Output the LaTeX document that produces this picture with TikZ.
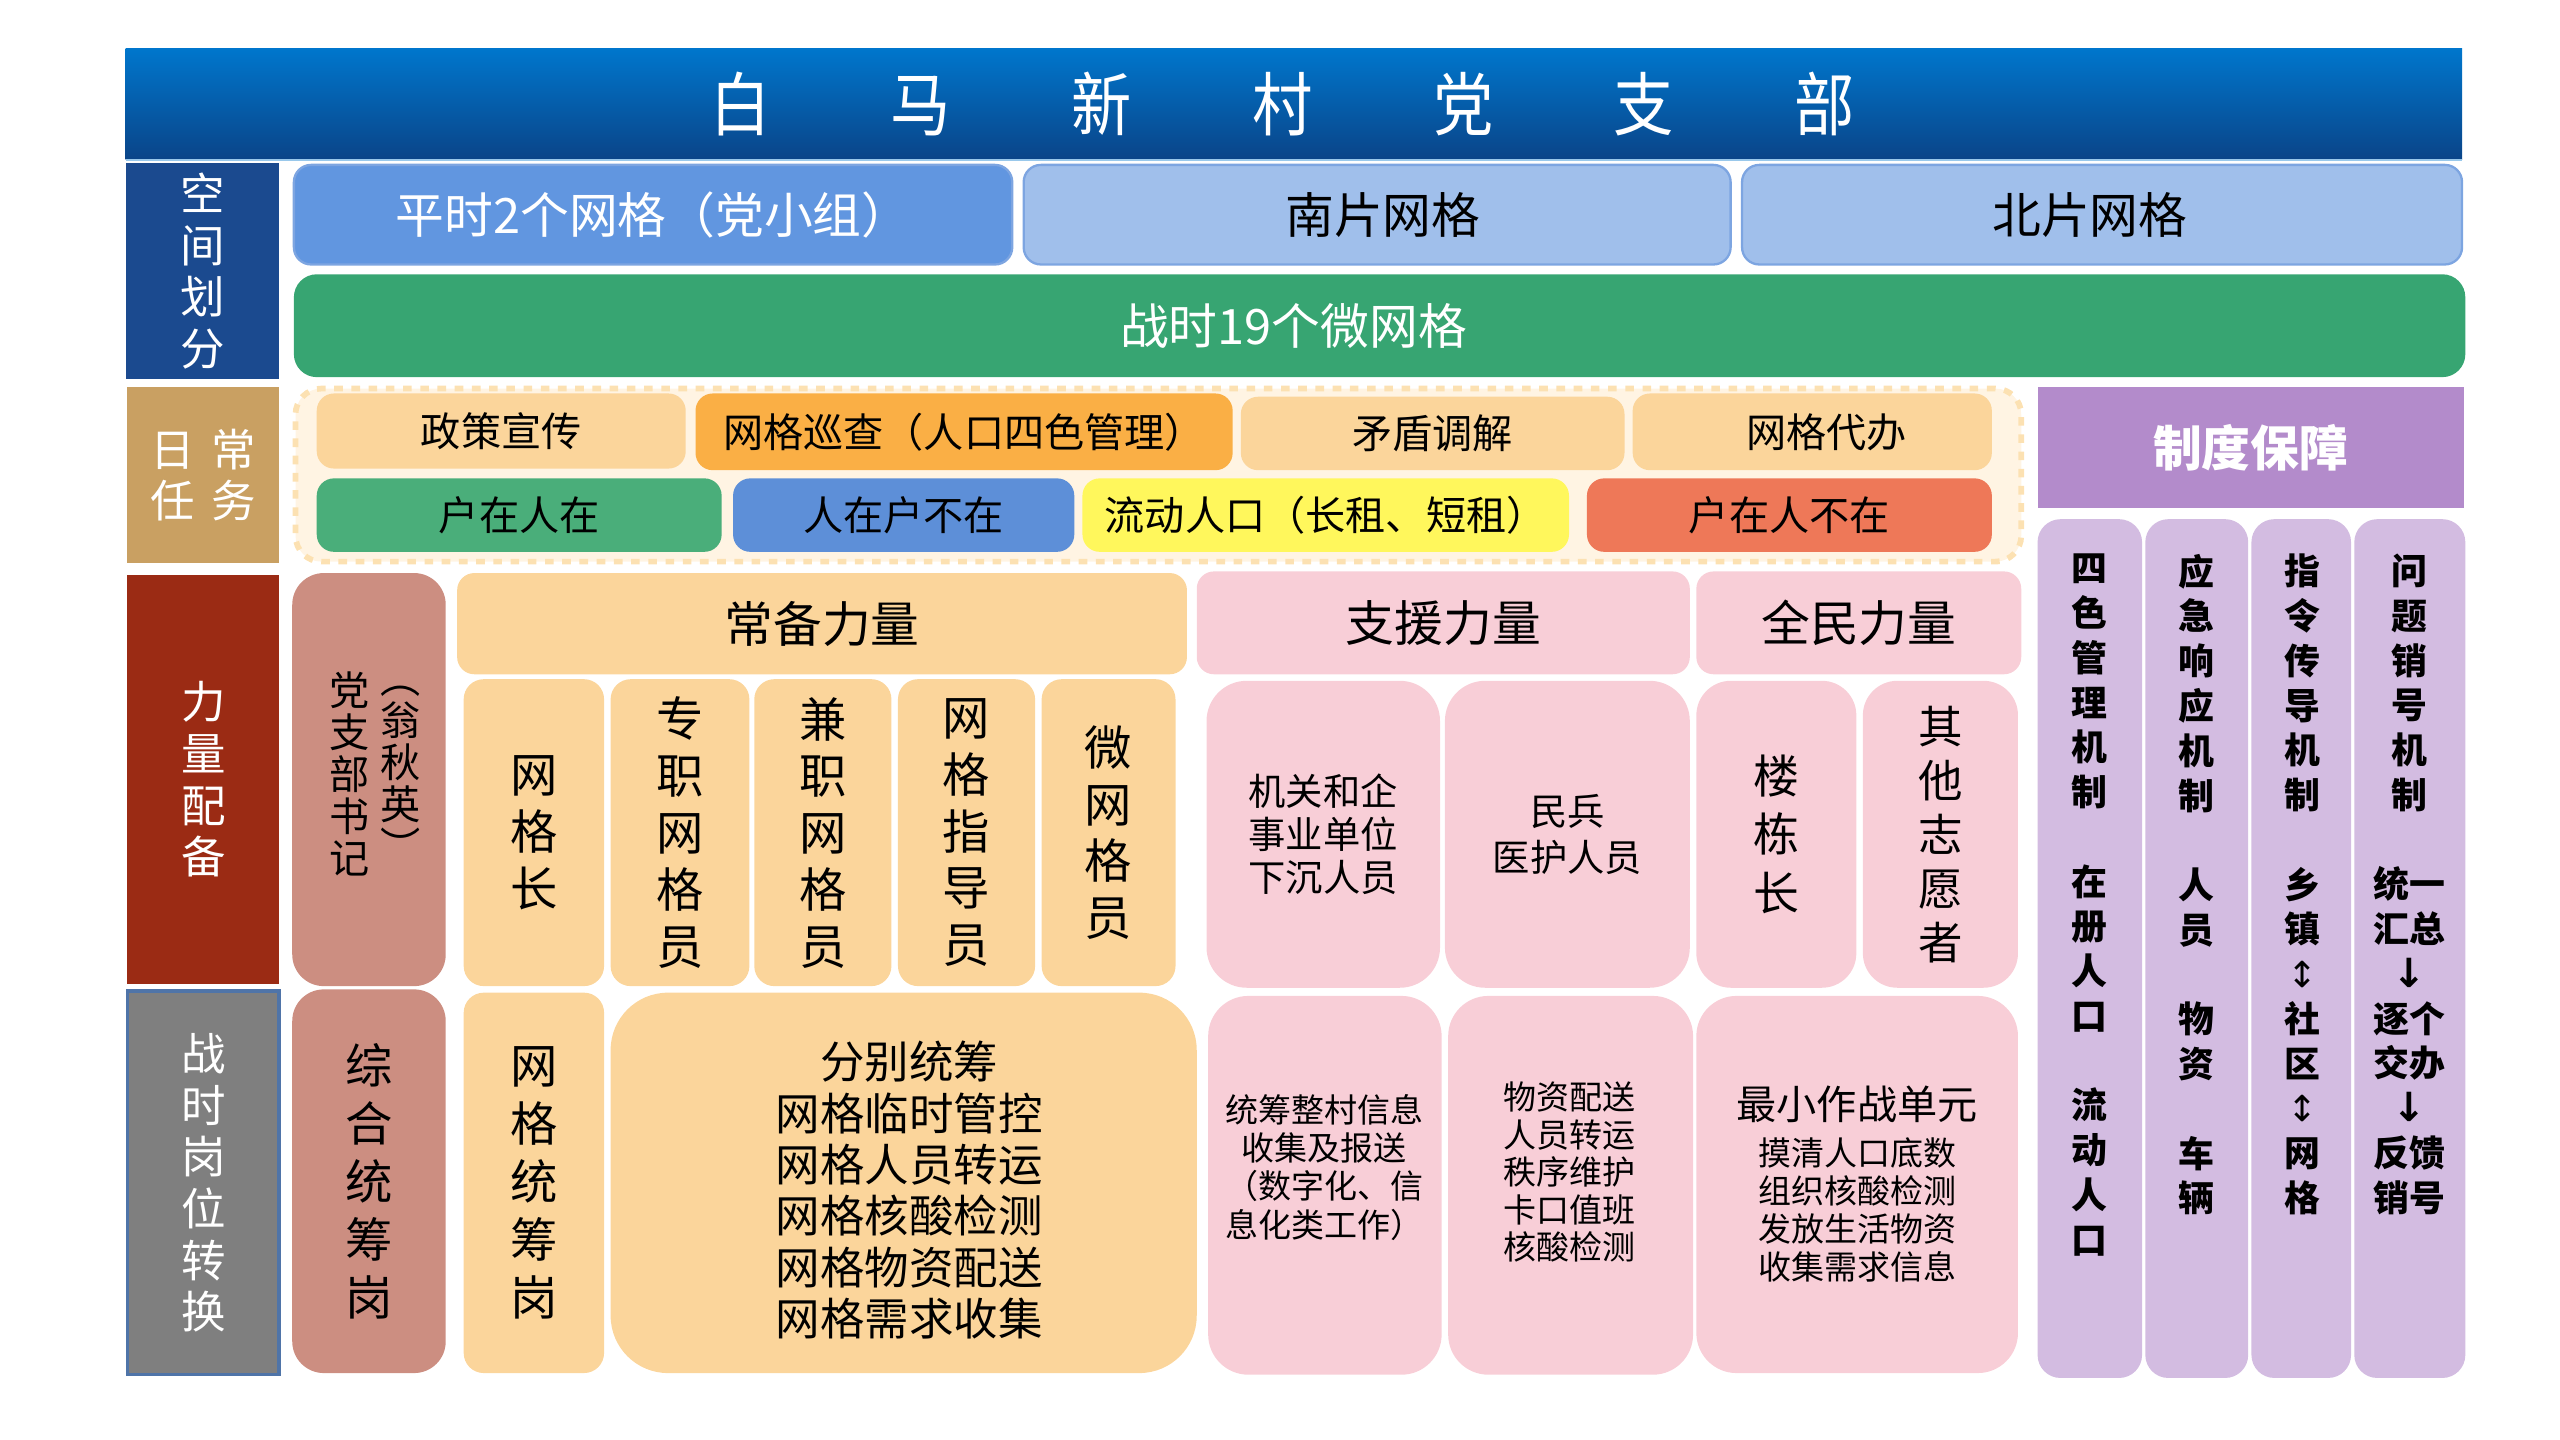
\documentclass[tikz,border=0pt]{standalone}
\usepackage{fontspec}
\setmainfont{Noto Sans CJK SC}
\newfontfamily\arrowfont{DejaVu Sans}
\usetikzlibrary{positioning}
\definecolor{TitleTop}{RGB}{0, 118, 204}
\definecolor{TitleBot}{RGB}{10, 68, 136}
\definecolor{SpaceBlue}{RGB}{27, 74, 143}
\definecolor{DailyTan}{RGB}{201, 160, 98}
\definecolor{ForceRed}{RGB}{155, 43, 20}
\definecolor{WarGray}{RGB}{127, 127, 127}
\definecolor{WarEdge}{RGB}{79, 116, 168}
\definecolor{GridBlue}{RGB}{97, 150, 224}
\definecolor{GridLight}{RGB}{160, 191, 235}
\definecolor{GridEdge}{RGB}{125, 165, 225}
\definecolor{MicroGreen}{RGB}{55, 165, 114}
\definecolor{DailyBg}{RGB}{255, 244, 227}
\definecolor{DailyEdge}{RGB}{252, 225, 178}
\definecolor{SoftOrange}{RGB}{251, 213, 155}
\definecolor{PatrolOrange}{RGB}{250, 175, 69}
\definecolor{StayGreen}{RGB}{74, 174, 122}
\definecolor{AwayBlue}{RGB}{93, 143, 216}
\definecolor{FlowYellow}{RGB}{255, 247, 92}
\definecolor{GoneRed}{RGB}{238, 120, 88}
\definecolor{RulePurple}{RGB}{179, 139, 203}
\definecolor{RuleLilac}{RGB}{211, 188, 225}
\definecolor{SecRose}{RGB}{204, 142, 129}
\definecolor{AidPink}{RGB}{248, 206, 215}

\newcommand{\fs}[2]{\fontsize{#1}{#2}\selectfont}
% box from corner (#3,#4) to corner (#5,#6), in 1/1568 of the page width
\newcommand{\blkcell}[7]{\node[#2, minimum width={(#5-#3)*0.2mm}, minimum height={(#6-#4)*0.2mm}] (#1) at ({(#3+#5)/2},{(#4+#6)/2}) {#7};}

\begin{document}
\begin{tikzpicture}[x=0.2mm, y=-0.2mm,
    blk/.style={inner sep=0pt, outer sep=0pt, rounded corners=#1, align=center},
    blk/.default=5pt,
    lab/.style={blk=0pt, fill=#1, text=white, font=\fs{15.5}{18}},
    grid/.style={blk=6pt, fill=#1, draw=GridEdge, line width=0.8pt, font=\fs{17}{20}},
    task/.style={blk=6pt, fill=#1, font=\fs{14}{16}},
    head/.style={blk=6pt, fill=#1, font=\fs{17}{20}},
    vcol/.style={blk=7pt, fill=#1, font=\fs{16.5}{19.8}},
    rulecol/.style={blk=8pt, fill=RuleLilac},
    ruletext/.style={inner sep=0pt, anchor=north, align=center, font=\bfseries\fs{12.5}{15.6}}]
  \useasboundingbox (0,0) rectangle (1568,882);

  % title
  \blkcell{title}{blk=0pt, top color=TitleTop, bottom color=TitleBot, text=white, font=\fs{21}{24}}{77}{30}{1508}{98}{\scalebox{1}[1.15]{白\hspace{42pt}马\hspace{42pt}新\hspace{42pt}村\hspace{42pt}党\hspace{42pt}支\hspace{42pt}部}\hspace{8pt}}
  \draw[white!60!TitleTop, line width=1pt] (title.south west) -- (title.south east);

  % left labels
  \blkcell{space}{lab=SpaceBlue}{77}{100}{171}{232}{空\\间\\划\\分}
  \blkcell{daily}{lab=DailyTan}{78}{237}{171}{345}{日\hspace{6pt}常\\任\hspace{6pt}务}
  \blkcell{force}{lab=ForceRed}{78}{352}{171}{603}{力\\量\\配\\备}
  \blkcell{war}{lab=WarGray, draw=WarEdge, line width=1.2pt}{78}{607}{171}{842}{战\\时\\岗\\位\\转\\换}

  % space division
  \blkcell{peace}{grid=GridBlue, text=white}{180}{101}{620}{162}{平时2个网格（党小组）}
  \blkcell{south}{grid=GridLight}{627}{101}{1060}{162}{\hspace{4pt}南片网格}
  \blkcell{north}{grid=GridLight}{1067}{101}{1508}{162}{北片网格\hspace{8.5pt}}
  \blkcell{micro}{blk=8pt, fill=MicroGreen, text=white, font=\fs{17}{20}}{180}{168}{1510}{231}{战时19个微网格\hspace{60pt}}

  % daily tasks
  \blkcell{dailybg}{blk=9pt, fill=DailyBg, draw=DailyEdge, dashed, line width=2pt}{181}{238}{1238}{344}{}
  \blkcell{promo}{task=SoftOrange}{194}{241}{420}{287}{政策宣传}
  \blkcell{patrol}{task=PatrolOrange}{426}{241}{755}{288}{网格巡查（人口四色管理）}
  \blkcell{mediate}{task=SoftOrange}{760}{243}{995}{288}{矛盾调解}
  \blkcell{errand}{task=SoftOrange}{1000}{241}{1220}{288}{\hspace{10pt}网格代办}
  \blkcell{stay}{task=StayGreen}{194}{293}{442}{338}{户在人在}
  \blkcell{away}{task=AwayBlue}{449}{293}{658}{338}{人在户不在}
  \blkcell{flow}{task=FlowYellow}{663}{293}{961}{338}{流动人口（长租、短租）}
  \blkcell{gone}{task=GoneRed}{972}{293}{1220}{338}{户在人不在}

  % rules
  \blkcell{rules}{blk=0pt, fill=RulePurple, text=white, font=\bfseries\fs{17}{20}}{1248}{237}{1509}{311}{制度保障}
  \blkcell{ruleA}{rulecol}{1248}{318}{1312}{844}{}
  \blkcell{ruleB}{rulecol}{1314}{318}{1377}{844}{}
  \blkcell{ruleC}{rulecol}{1379}{318}{1440}{844}{}
  \blkcell{ruleD}{rulecol}{1442}{318}{1510}{844}{}
  \node[ruletext] (ruleAt) at (1280,339) {四\\色\\管\\理\\机\\制\\\phantom{口}\\在\\册\\人\\口\\\phantom{口}\\流\\动\\人\\口};
  \node[ruletext] (ruleBt) at (1345.5,339) {应\\急\\响\\应\\机\\制\\\phantom{口}\\人\\员\\\phantom{口}\\物\\资\\\phantom{口}\\车\\辆};
  \node[ruletext] (ruleCt) at (1410,339) {指\\令\\传\\导\\机\\制\\\phantom{口}\\乡\\镇\\{\arrowfont\mdseries ↕}\\社\\区\\{\arrowfont\mdseries ↕}\\网\\格};
  \node[ruletext] (ruleDt) at (1475.5,339) {问\\题\\销\\号\\机\\制\\\phantom{口}\\统一\\汇总\\{\arrowfont\bfseries\fs{14}{15.6}↓}\\逐个\\交办\\{\arrowfont\bfseries\fs{14}{15.6}↓}\\反馈\\销号};

  % force allocation
  \blkcell{sec}{blk=11pt, fill=SecRose}{179}{351}{273}{604}{}
  \node[align=center, inner sep=0pt, font=\fs{14}{14.6}] (secL) at (214,474) {党\\支\\部\\书\\记};
  \node[align=center, inner sep=0pt, font=\fs{14}{14.6}] (secR) at (245.5,474) {︵\\翁\\秋\\英\\︶};
  \blkcell{stand}{head=SoftOrange}{280}{351}{727}{413}{常备力量}
  \blkcell{gridhead}{vcol=SoftOrange}{284}{416}{370}{604}{网\\格\\长}
  \blkcell{fulltime}{vcol=SoftOrange}{374}{416}{459}{604}{专\\职\\网\\格\\员}
  \blkcell{parttime}{vcol=SoftOrange}{462}{416}{546}{604}{兼\\职\\网\\格\\员}
  \blkcell{guide}{vcol=SoftOrange}{550}{416}{634}{604}{网\\格\\指\\导\\员}
  \blkcell{microman}{vcol=SoftOrange}{638}{416}{720}{604}{微\\网\\格\\员}
  \blkcell{aid}{head=AidPink}{733}{350}{1035}{413}{支援力量}
  \blkcell{all}{head=AidPink}{1039}{350}{1238}{413}{全民力量}
  \blkcell{cadre}{blk=14pt, fill=AidPink, font=\fs{13}{15.1}}{739}{417}{882}{605}{机关和企\\事业单位\\下沉人员}
  \blkcell{militia}{blk=14pt, fill=AidPink, font=\fs{13}{16}}{885}{417}{1035}{605}{民兵\\医护人员}
  \blkcell{building}{blk=12pt, fill=AidPink, font=\fs{16}{20.4}}{1039}{417}{1137}{605}{楼\\栋\\长}
  \blkcell{volunteer}{blk=12pt, fill=AidPink, font=\fs{15.5}{18.8}}{1141}{417}{1236}{605}{其\\他\\志\\愿\\者}

  % wartime posts
  \blkcell{overall}{blk=11pt, fill=SecRose, font=\fs{16.5}{20.2}}{179}{606}{273}{841}{综\\合\\统\\筹\\岗}
  \blkcell{gridplan}{vcol=SoftOrange, font=\fs{16.5}{20.2}}{284}{608}{370}{841}{网\\格\\统\\筹\\岗}
  \blkcell{split}{blk=20pt, fill=SoftOrange}{374}{608}{733}{841}{}
  \node[align=center, inner sep=0pt, font=\fs{15.5}{17.9}] (splitt) at (557,729) {分别统筹\\网格临时管控\\网格人员转运\\网格核酸检测\\网格物资配送\\网格需求收集};
  \blkcell{info}{blk=14pt, fill=AidPink}{740}{610}{883}{842}{}
  \node[align=center, inner sep=0pt, font=\fs{11.5}{13.3}] (infot) at (811,715) {统筹整村信息\\收集及报送\\（数字化、信\\息化类工作）};
  \blkcell{supply}{blk=14pt, fill=AidPink}{887}{610}{1037}{842}{}
  \node[align=center, inner sep=0pt, font=\fs{11.5}{13.1}] (supplyt) at (961.5,718) {物资配送\\人员转运\\秩序维护\\卡口值班\\核酸检测};
  \blkcell{unit}{blk=14pt, fill=AidPink, font=\fs{11.5}{13.3}}{1039}{610}{1236}{841}{{\fs{14}{16}最小作战单元}\\[2.6pt]摸清人口底数\\组织核酸检测\\发放生活物资\\收集需求信息}
\end{tikzpicture}
\end{document}
